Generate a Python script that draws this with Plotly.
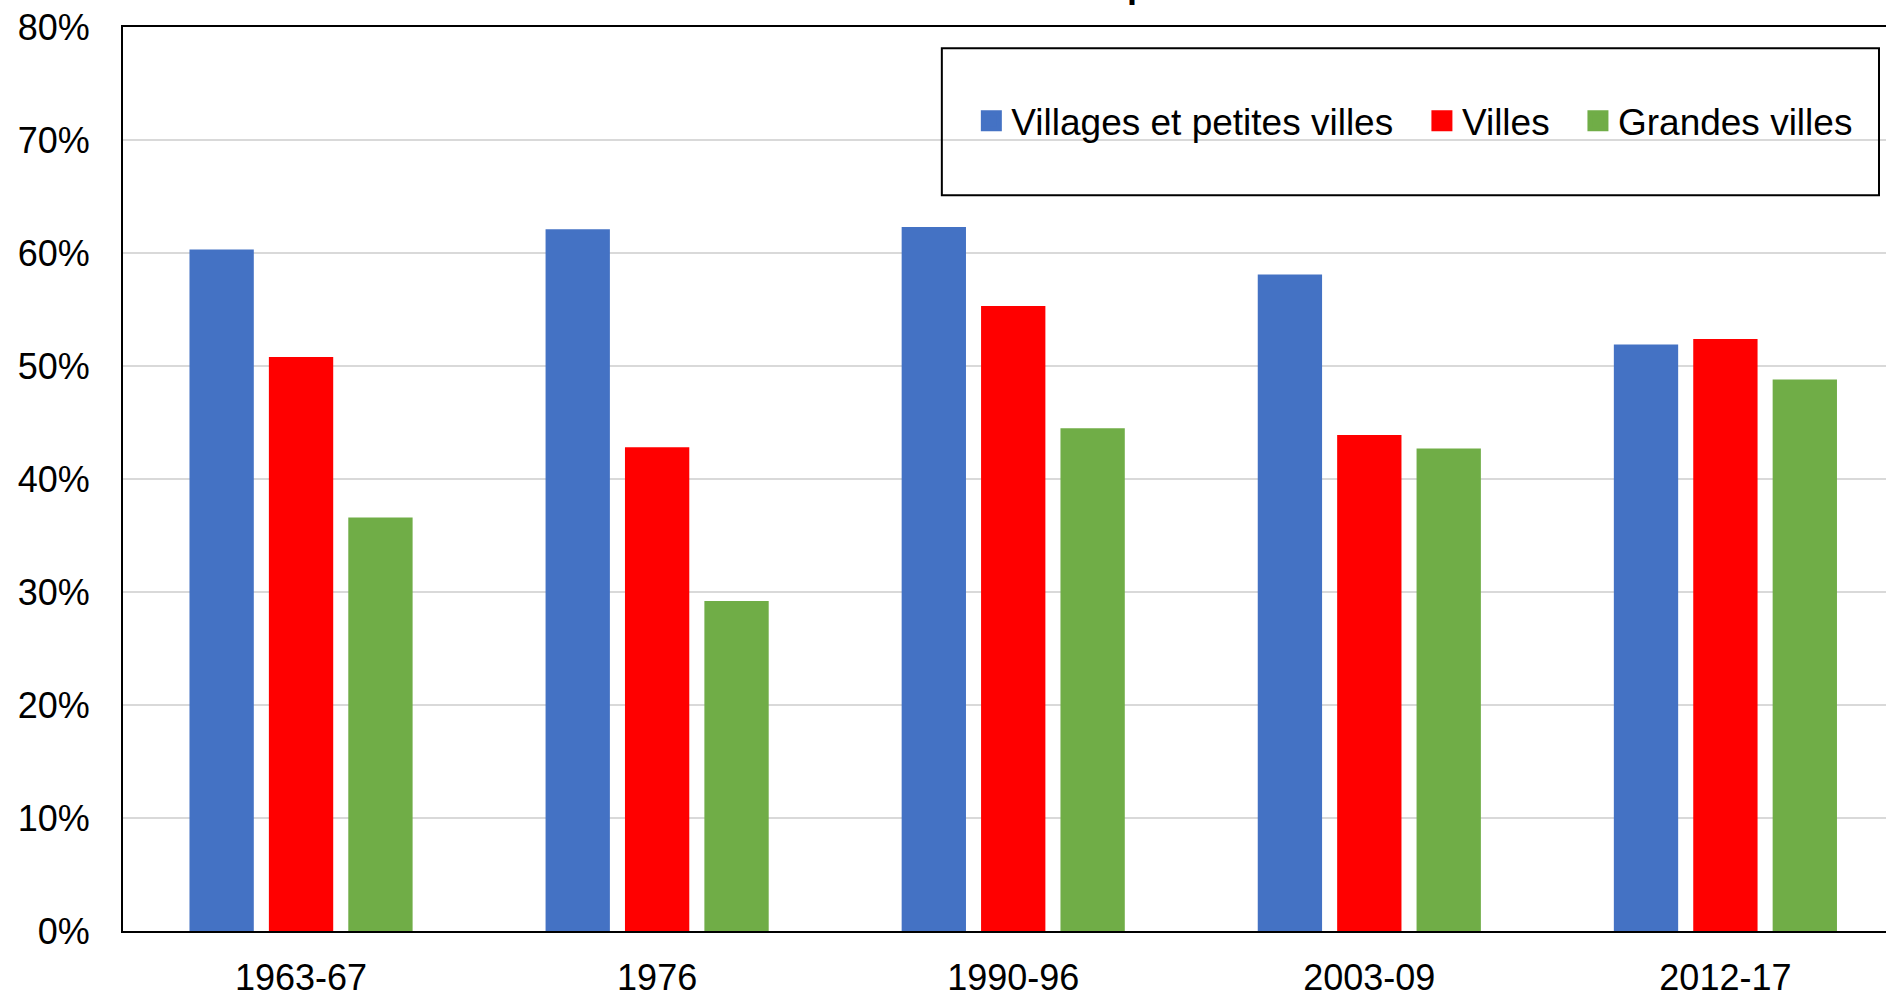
import plotly.graph_objects as go

categories = ["1963-67", "1976", "1990-96", "2003-09", "2012-17"]
villages = [0.603, 0.621, 0.623, 0.581, 0.519]
villes = [0.508, 0.428, 0.553, 0.439, 0.524]
grandes = [0.366, 0.292, 0.445, 0.427, 0.488]
series_names = ["Villages et petites villes", "Villes", "Grandes villes"]
colors = ["#4472C4", "#FF0000", "#70AD47"]
y_ticks = [0.0, 0.1, 0.2, 0.3, 0.4, 0.5, 0.6, 0.7, 0.8]

W, H = 1886, 992
ML, MR, MT, MB = 123.3, 0, 26.7, 61
PW = W - ML - MR
PH = H - MT - MB

def px_x(p):
    return (p - ML) / PW

def px_y(p):
    return (H - MB - p) / PH

FONT = "Arial, 'Liberation Sans', sans-serif"

fig = go.Figure()
legend_ids = ["legend", "legend2", "legend3"]
for vals, name, col in zip([villages, villes, grandes], series_names, colors):
    fig.add_trace(go.Bar(x=categories, y=vals, name=name, marker_color=col,
                         marker_line_width=0, showlegend=False))
# legend entries (square swatches)
for name, col, lg in zip(series_names, colors, legend_ids):
    fig.add_trace(go.Scatter(x=[None], y=[None], mode="markers", name=name,
                             marker=dict(symbol="square", size=16, color=col,
                                         line=dict(color=col, width=5)),
                             legend=lg, showlegend=True, hoverinfo="skip"))

legend_left_px = [971.5, 1422, 1578]
common_legend = dict(orientation="h", xanchor="left", yanchor="middle",
                     font=dict(family=FONT, size=37, color="black"),
                     bgcolor="rgba(0,0,0,0)", borderwidth=0)
layout_legends = {}
for lg, lx in zip(legend_ids, legend_left_px):
    layout_legends[lg] = dict(common_legend, x=px_x(lx), y=px_y(121))

fig.update_layout(
    width=W, height=H,
    margin=dict(l=ML, r=MR, t=MT, b=MB, pad=0),
    paper_bgcolor="white", plot_bgcolor="white",
    barmode="group", bargap=0.331, bargroupgap=0.19,
    font=dict(family=FONT, size=36, color="black"),
    showlegend=True,
    **layout_legends,
    xaxis=dict(range=[-0.5, 4.451], showline=True, linecolor="black", linewidth=2,
               mirror=True, showgrid=False, ticks="", tickfont=dict(size=36),
               ticklabelstandoff=14, fixedrange=True, automargin=False),
    yaxis=dict(range=[0, 0.8], tickvals=y_ticks, tickformat=".0%",
               showline=True, linecolor="black", linewidth=2, mirror=True,
               showgrid=True, gridcolor="#d9d9d9", gridwidth=1.5,
               ticks="", tickfont=dict(size=36), ticklabelstandoff=24,
               zeroline=False, fixedrange=True, automargin=False),
    shapes=[dict(type="rect", xref="paper", yref="paper",
                 x0=px_x(942), x1=px_x(1879), y0=px_y(195), y1=px_y(48),
                 line=dict(color="black", width=2), fillcolor="rgba(0,0,0,0)")],
    annotations=[dict(text="<b>p</b>", xref="paper", yref="paper",
                      x=px_x(1138), y=px_y(7), xanchor="center", yanchor="bottom",
                      showarrow=False, font=dict(family=FONT, size=36, color="black"))],
)

fig.write_html("out.html", config={"displayModeBar": False},
               post_script="document.body.style.margin='0';document.body.style.overflow='hidden';")
